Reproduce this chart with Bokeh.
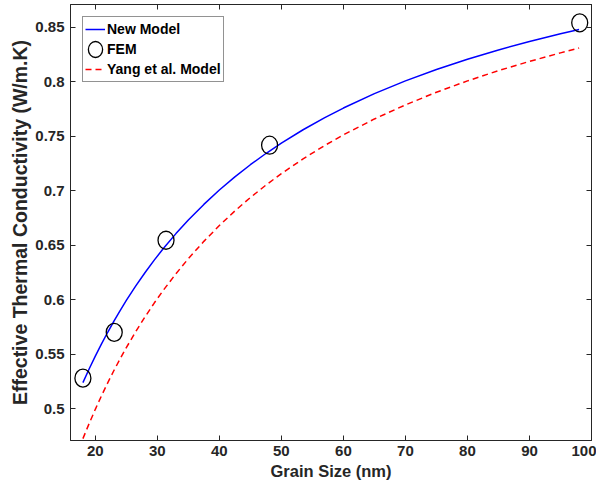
from bokeh.plotting import figure
from bokeh.models import Range1d, FixedTicker, LinearAxis
from bokeh.embed import file_html
from bokeh.resources import INLINE

# ---- data ----
grain_size = [18, 19, 20, 21, 22, 23, 24, 25, 26.5, 28, 29.5, 31, 33, 35, 37.5, 40, 42.5, 45,
              47.5, 50, 53.5, 57, 60, 65, 70, 75, 80, 85, 90, 95, 98]
new_model = [0.5239, 0.5364, 0.5482, 0.5595, 0.5701, 0.5803, 0.5900, 0.5993, 0.6124, 0.6247,
             0.6363, 0.6471, 0.6606, 0.6731, 0.6874, 0.7006, 0.7127, 0.7238, 0.7341, 0.7436,
             0.7559, 0.7670, 0.7758, 0.7890, 0.8007, 0.8112, 0.8206, 0.8291, 0.8369, 0.8439,
             0.8479]
yang_model = [0.4725, 0.4863, 0.4994, 0.5119, 0.5237, 0.5350, 0.5457, 0.5560, 0.5705, 0.5841,
              0.5969, 0.6089, 0.6238, 0.6376, 0.6535, 0.6680, 0.6814, 0.6937, 0.7051, 0.7156,
              0.7292, 0.7415, 0.7512, 0.7658, 0.7787, 0.7903, 0.8007, 0.8101, 0.8186, 0.8264,
              0.8308]
fem_size = [18.0, 23.05, 31.4, 48.1, 98.1]
fem_k = [0.528, 0.570, 0.6545, 0.7417, 0.854]

x_ticks = [20, 30, 40, 50, 60, 70, 80, 90, 100]
y_ticks = [0.5, 0.55, 0.6, 0.65, 0.7, 0.75, 0.8, 0.85]
y_tick_labels = ["0.5", "0.55", "0.6", "0.65", "0.7", "0.75", "0.8", "0.85"]

AX = "#262626"
FONT = "Liberation Sans"

p = figure(width=596, height=482, output_backend="svg", toolbar_location=None,
           x_range=Range1d(16, 100), y_range=Range1d(0.4708, 0.8708),
           min_border_left=70, min_border_right=5, min_border_top=4, min_border_bottom=42)
p.grid.visible = False
p.outline_line_color = AX
p.outline_line_width = 1
p.background_fill_color = "white"
p.border_fill_color = "white"

p.line(grain_size, new_model, line_color="#0000FF", line_width=1.5, legend_label="New Model")
p.ellipse(fem_size, fem_k, width=16, height=18, width_units="screen", height_units="screen",
          fill_color=None, line_color="black", line_width=1.3, legend_label="FEM")
p.line(grain_size, yang_model, line_color="#FF0000", line_width=1.5, line_dash="6 4",
       legend_label="Yang et al. Model")

def style_axis(ax, ticks, show_labels):
    ax.ticker = FixedTicker(ticks=ticks, minor_ticks=[])
    ax.major_tick_in = 5
    ax.major_tick_out = 0
    ax.minor_tick_line_color = None
    ax.major_tick_line_color = AX
    ax.axis_line_color = AX
    ax.major_label_text_font = FONT
    ax.major_label_text_font_style = "bold"
    ax.major_label_text_color = AX
    if not show_labels:
        ax.major_label_text_font_size = "1px"
        ax.major_label_text_color = None
        ax.major_label_standoff = 0
        ax.axis_label = None

xa = p.xaxis[0]
style_axis(xa, x_ticks, True)
xa.major_label_text_font_size = "15px"
xa.major_label_standoff = 5
xa.axis_label = "Grain Size (nm)"
xa.axis_label_text_font = FONT
xa.axis_label_text_font_style = "bold"
xa.axis_label_text_font_size = "16.5px"
xa.axis_label_text_color = AX
xa.axis_label_standoff = 3

ya = p.yaxis[0]
style_axis(ya, y_ticks, True)
ya.major_label_text_font_size = "15px"
ya.major_label_standoff = 6
ya.major_label_overrides = {v: s for v, s in zip(y_ticks, y_tick_labels)}
ya.axis_label = "Effective Thermal Conductivity (W/m.K)"
ya.axis_label_text_font = FONT
ya.axis_label_text_font_style = "bold"
ya.axis_label_text_font_size = "19.5px"
ya.axis_label_text_color = AX
ya.axis_label_standoff = 1

top = LinearAxis()
style_axis(top, x_ticks, False)
p.add_layout(top, "above")
right = LinearAxis()
style_axis(right, y_ticks, False)
p.add_layout(right, "right")

lg = p.legend[0]
lg.location = "top_left"
lg.margin = 12
lg.padding = 2
lg.spacing = 0
lg.glyph_width = 20
lg.glyph_height = 20
lg.label_height = 20
lg.label_standoff = 2
lg.label_text_font = FONT
lg.label_text_font_style = "bold"
lg.label_text_font_size = "14px"
lg.label_text_color = "black"
lg.border_line_color = AX
lg.border_line_width = 1
lg.background_fill_alpha = 1

open("out.html", "w").write(file_html(p, INLINE))
